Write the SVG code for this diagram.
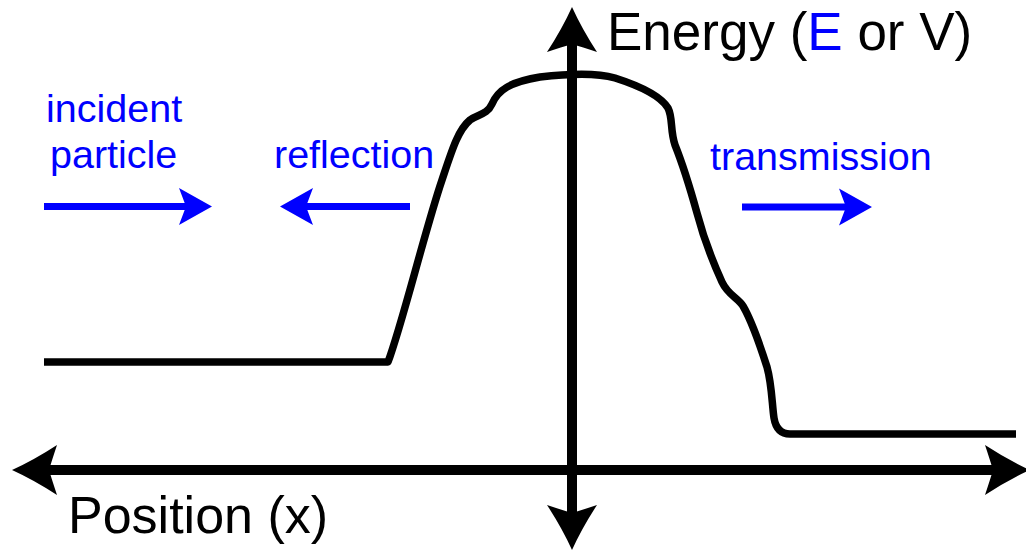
<svg xmlns="http://www.w3.org/2000/svg" width="1026" height="551" viewBox="0 0 1026 551">
<style>
  .axis { stroke: #000; stroke-width: 10; fill: none; }
  .curve { stroke: #000; stroke-width: 7.5; fill: none; stroke-linejoin: round; }
  .barrow { stroke: #0000ff; stroke-width: 7; fill: none; }
  .big { font-family: "Liberation Sans", Arial, sans-serif; font-size: 53px; fill: #000; }
  .pos { font-size: 52px; }
  .lbl { font-family: "Liberation Sans", Arial, sans-serif; font-size: 39.5px; fill: #0000ff; }
  .blue { fill: #0000ff; }
</style>
<defs>
  <marker id="ah" markerUnits="userSpaceOnUse" viewBox="-50 -30 55 60" markerWidth="55" markerHeight="60" refX="-37" refY="0" orient="auto-start-reverse" overflow="visible">
    <path d="M0,0 Q-22,-10 -45,-25 Q-40,-10 -37,0 Q-40,10 -45,25 Q-22,10 0,0 Z" fill="#000"/>
  </marker>
  <marker id="bh" markerUnits="userSpaceOnUse" viewBox="-40 -22 45 44" markerWidth="45" markerHeight="44" refX="-26" refY="0" orient="auto" overflow="visible">
    <path d="M0,0 L-33,-18.5 L-26,0 L-33,18.5 Z" fill="#0000ff"/>
  </marker>
</defs>

<g id="connectors">
  <line id="x-axis" class="axis" x1="49" y1="470" x2="993" y2="470" marker-start="url(#ah)" marker-end="url(#ah)"/>
  <line id="y-axis" class="axis" x1="572" y1="513" x2="572" y2="44" marker-start="url(#ah)" marker-end="url(#ah)"/>
  <line id="incident-arrow" class="barrow" x1="44" y1="206.5" x2="186" y2="206.5" marker-end="url(#bh)"/>
  <line id="reflection-arrow" class="barrow" x1="410" y1="206.5" x2="306" y2="206.5" marker-end="url(#bh)"/>
  <line id="transmission-arrow" class="barrow" x1="742" y1="207" x2="846" y2="207" marker-end="url(#bh)"/>
</g>

<g id="potential">
  <path class="curve" d="M44,362 L388,362 C402,325 425,230 442,180 C452,150 458,130 470,120 C478,114 487,115 492,104 C498,90 510,82 540,77 C565,74 595,72 615,78 C640,86 660,95 668,108 C673,118 670,130 675,145 C685,170 692,195 697,213 C702,232 712,260 722,282 C728,295 738,298 743,306 C750,318 760,345 767,367 C772,385 772,405 774,418 C776,430 782,434 790,434 L1016,434"/>
</g>

<g id="label-energy">
  <text class="big" x="607" y="50">Energy (<tspan class="blue">E</tspan> or V)</text>
</g>
<g id="label-position">
  <text class="big pos" x="68" y="533">Position (x)</text>
</g>
<g id="label-incident">
  <text class="lbl" x="46" y="122">incident</text>
  <text class="lbl" x="50" y="168">particle</text>
</g>
<g id="label-reflection">
  <text class="lbl" x="274" y="168">reflection</text>
</g>
<g id="label-transmission">
  <text class="lbl" x="710" y="170">transmission</text>
</g>
</svg>
